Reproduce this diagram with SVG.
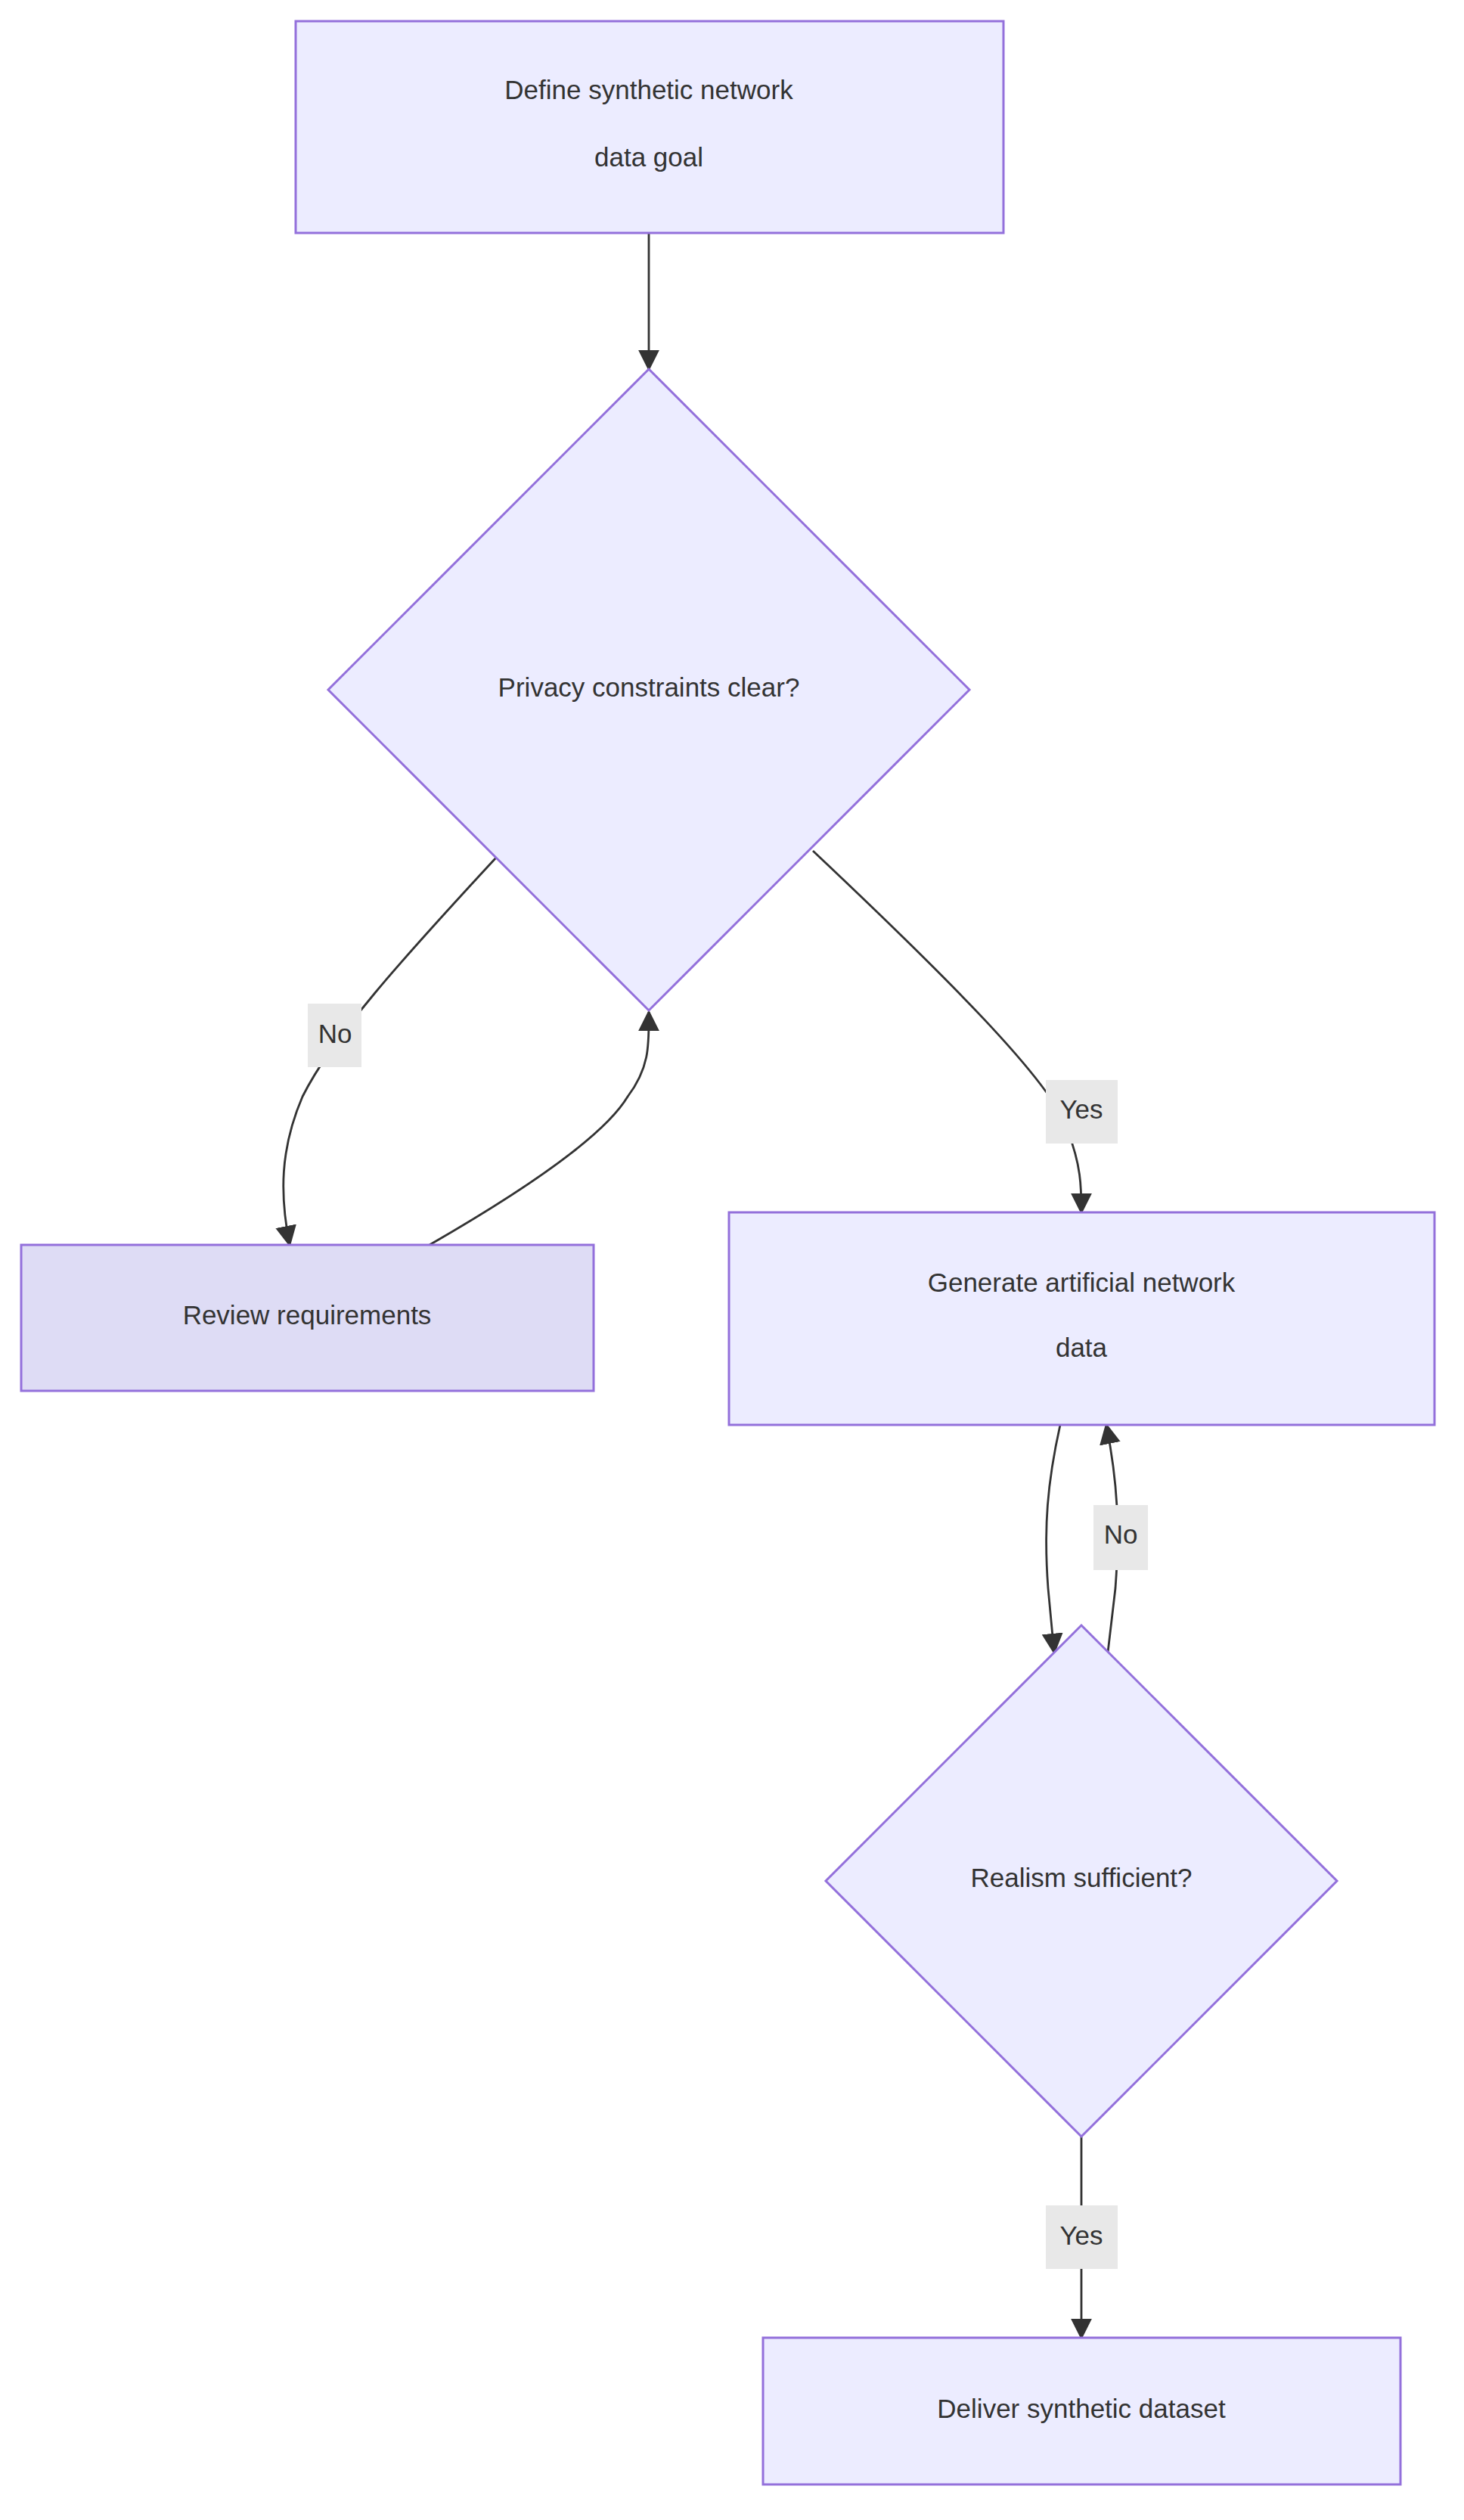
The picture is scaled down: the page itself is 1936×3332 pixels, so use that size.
<svg xmlns="http://www.w3.org/2000/svg" width="1936" height="3332" viewBox="0 0 1936 3332">
<style>
.n{fill:#ECECFF;stroke:#9370DB;stroke-width:3}
.r{fill:#DEDCF5;stroke:#9370DB;stroke-width:3}
.t{font-family:"Liberation Sans",Arial,sans-serif;font-size:35px;fill:#333;text-anchor:middle;dominant-baseline:central}
.e{fill:none;stroke:#333;stroke-width:2.8}
.lb{fill:#E8E8E8}
</style>
<defs>
<marker id="a" viewBox="0 0 10 10" refX="9" refY="5" markerWidth="28" markerHeight="28" markerUnits="userSpaceOnUse" orient="auto"><path d="M0,0L10,5L0,10z" fill="#333"/></marker>
</defs>
<rect width="1936" height="3332" fill="#fff"/>
<g id="edges">
<path class="e" marker-end="url(#a)" d="M858,308L858,488"/>
<path class="e" marker-end="url(#a)" d="M656,1134C530,1270 440,1370 400,1450C370,1520 370,1580 383,1646"/>
<path class="e" marker-end="url(#a)" d="M568,1646C700,1570 800,1500 830,1450C860,1410 858,1380 858,1338"/>
<path class="e" marker-end="url(#a)" d="M1075,1125C1250,1290 1390,1430 1410,1490C1430,1540 1430,1570 1430,1603"/>
<path class="e" marker-end="url(#a)" d="M1402,1884C1385,1960 1380,2020 1386,2100L1394,2185"/>
<path class="e" marker-end="url(#a)" d="M1465,2185L1475,2100C1481,2020 1478,1960 1463,1884"/>
<path class="e" marker-end="url(#a)" d="M1430,2825L1430,3091"/>
</g>
<g id="labels">
<rect class="lb" x="407" y="1327" width="71" height="84"/><text class="t" x="443" y="1366">No</text>
<rect class="lb" x="1383" y="1428" width="95" height="84"/><text class="t" x="1430" y="1466">Yes</text>
<rect class="lb" x="1446" y="1990" width="72" height="86"/><text class="t" x="1482" y="2028">No</text>
<rect class="lb" x="1383" y="2916" width="95" height="84"/><text class="t" x="1430" y="2955">Yes</text>
</g>
<g id="start"><rect class="n" x="391" y="28" width="936" height="280"/>
<text class="t" x="858" y="118">Define synthetic network</text><text class="t" x="858" y="207">data goal</text></g>
<g id="privacy"><polygon class="n" points="858,488 1282,912 858,1336 434,912"/>
<text class="t" x="858" y="908">Privacy constraints clear?</text></g>
<g id="review"><rect class="r" x="28" y="1646" width="757" height="193"/>
<text class="t" x="406" y="1738">Review requirements</text></g>
<g id="generate"><rect class="n" x="964" y="1603" width="933" height="281"/>
<text class="t" x="1430" y="1695">Generate artificial network</text><text class="t" x="1430" y="1781">data</text></g>
<g id="realism"><polygon class="n" points="1430,2149 1768,2487 1430,2825 1092,2487"/>
<text class="t" x="1430" y="2482">Realism sufficient?</text></g>
<g id="deliver"><rect class="n" x="1009" y="3091" width="843" height="194"/>
<text class="t" x="1430" y="3184">Deliver synthetic dataset</text></g>
</svg>
